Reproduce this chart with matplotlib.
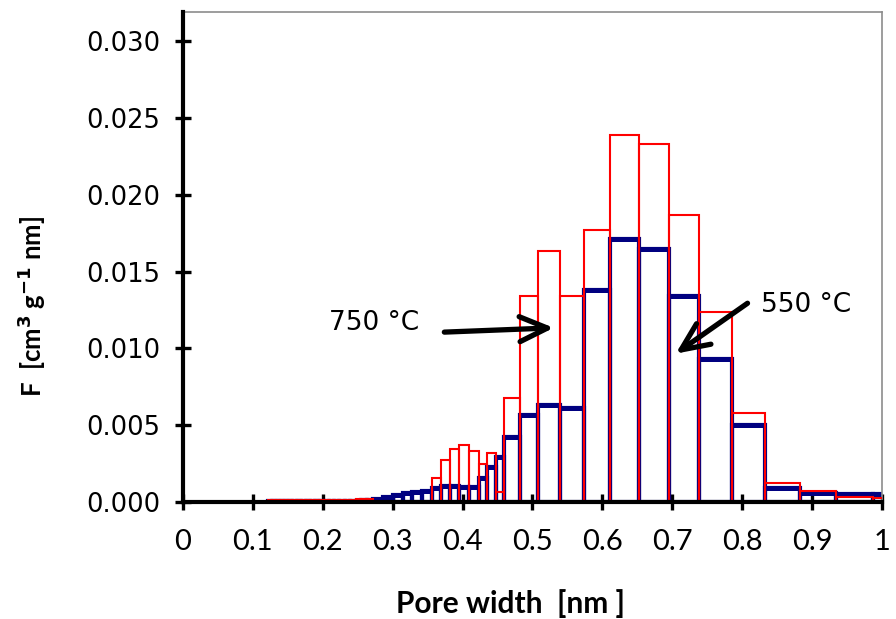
import matplotlib
matplotlib.use("Agg")
import matplotlib.pyplot as plt
import numpy as np

# Pore-width bin edges [nm] shared by both samples
pore_edges = [
    0.1218, 0.1275, 0.1332, 0.1390, 0.1447, 0.1504, 0.1562, 0.1626, 0.1691,
    0.1755, 0.1819, 0.1884, 0.1948, 0.2020, 0.2092, 0.2163, 0.2235, 0.2314,
    0.2393, 0.2471, 0.2550, 0.2636, 0.2722, 0.2865, 0.3009, 0.3152, 0.3281,
    0.3424, 0.3563, 0.3689, 0.3815, 0.3944, 0.4087, 0.4231, 0.4355, 0.4484,
    0.4589, 0.4818, 0.5082, 0.5391, 0.5735, 0.6107, 0.6523, 0.6953, 0.7388,
    0.7851, 0.8324, 0.8830, 0.9341, 0.9871, 1.0415,
]

# Differential pore volume F [cm3 g-1 nm-1] per bin
f_750 = [
    0.00010, 0.00012, 0.00011, 0.00012, 0.00010, 0.00012, 0.00011, 0.00012,
    0.00010, 0.00011, 0.00012, 0.00010, 0.00011, 0.00012, 0.00011, 0.00012,
    0.00013, 0.00014, 0.00016, 0.00018, 0.00020, 0.00019,
    0.00003, 0.00003, 0.00002, 0.00002, 0.00002, 0.00003,
    0.00154, 0.00273, 0.00344, 0.00370, 0.00333, 0.00247, 0.00316, 0.00067,
    0.00677, 0.01344, 0.01636, 0.01344, 0.01771, 0.02390, 0.02329, 0.01868,
    0.01236, 0.00578, 0.00121, 0.00071, 0.00034, 0.00025,
]
f_550 = [
    0.00004, 0.00005, 0.00004, 0.00005, 0.00004, 0.00005, 0.00004, 0.00005,
    0.00004, 0.00005, 0.00004, 0.00005, 0.00004, 0.00005, 0.00005, 0.00006,
    0.00006, 0.00007, 0.00008, 0.00009, 0.00010, 0.00012,
    0.00020, 0.00032, 0.00045, 0.00056, 0.00066, 0.00074,
    0.00089, 0.00104, 0.00104, 0.00100, 0.00098, 0.00154, 0.00229, 0.00294,
    0.00424, 0.00565, 0.00630, 0.00610, 0.01377, 0.01712, 0.01647, 0.01344,
    0.00933, 0.00504, 0.00089, 0.00056, 0.00050, 0.00050,
]

x_ticks = [0, 0.1, 0.2, 0.3, 0.4, 0.5, 0.6, 0.7, 0.8, 0.9, 1.0]
x_tick_labels = ["0", "0.1", "0.2", "0.3", "0.4", "0.5", "0.6", "0.7", "0.8", "0.9", "1"]
y_ticks = [0.000, 0.005, 0.010, 0.015, 0.020, 0.025, 0.030]

edges = np.array(pore_edges)
left = edges[:-1]
width = np.diff(edges)

fig = plt.figure(figsize=(8.96, 6.19), dpi=100)
ax = fig.add_axes([0.2042, 0.189, 0.7802, 0.7916])

navy = "#000080"
red = "#FF0000"
narrow = ["Liberation Sans Narrow", "Lato"]

# 550 °C: navy outline with heavy top edge
ax.bar(left, f_550, width=width, align="edge", fill=False,
       edgecolor=navy, linewidth=3.0, zorder=2)
ax.hlines(f_550, left, left + width, color=navy, linewidth=3.6, zorder=2)

# 750 °C: thin red outline
ax.bar(left, f_750, width=width, align="edge", fill=False,
       edgecolor=red, linewidth=1.5, zorder=3)

ax.set_xlim(0, 1.0)
ax.set_ylim(0, 0.0319)

ax.set_xticks(x_ticks)
ax.set_xticklabels(x_tick_labels, family=narrow, fontsize=21)
ax.set_yticks(y_ticks)
ax.set_yticklabels([f"{v:.3f}" for v in y_ticks], family="DejaVu Sans", fontsize=18.5)

ax.tick_params(axis="both", direction="inout", length=11, width=2.4, color="black")
ax.tick_params(axis="x", pad=14)
ax.tick_params(axis="y", pad=11)

for side in ("left", "bottom"):
    ax.spines[side].set_color("black")
    ax.spines[side].set_linewidth(3.0)
    ax.spines[side].set_zorder(5)
for side in ("top", "right"):
    ax.spines[side].set_color("#8c8c8c")
    ax.spines[side].set_linewidth(1.2)

ax.set_xlabel("Pore width  [nm ]", family=narrow, fontweight="bold", fontsize=21.5)
ax.xaxis.set_label_coords(0.469, -0.178)
ax.set_ylabel("F  [cm$^{\\mathbf{3}}$ g$^{\\mathbf{-1}}$ nm]", family=narrow,
              fontweight="bold", fontsize=18.5)
ax.yaxis.set_label_coords(-0.193, 0.40)

# Sample labels with arrows
ax.text(0.2096, 0.01121, "750 °C", family="DejaVu Sans", fontsize=19,
        ha="left", va="baseline")
ax.text(0.8266, 0.01236, "550 °C", family="DejaVu Sans", fontsize=19,
        ha="left", va="baseline")
arrow = dict(arrowstyle="->,head_length=1.0,head_width=0.45", lw=3.8,
             color="black", shrinkA=0, shrinkB=0, mutation_scale=20)
ax.annotate("", xy=(0.5305, 0.01134), xytext=(0.3739, 0.01106), arrowprops=arrow, zorder=6)
ax.annotate("", xy=(0.7049, 0.00966), xytext=(0.8076, 0.01294), arrowprops=arrow, zorder=6)

fig.savefig("out.png", dpi=100)
